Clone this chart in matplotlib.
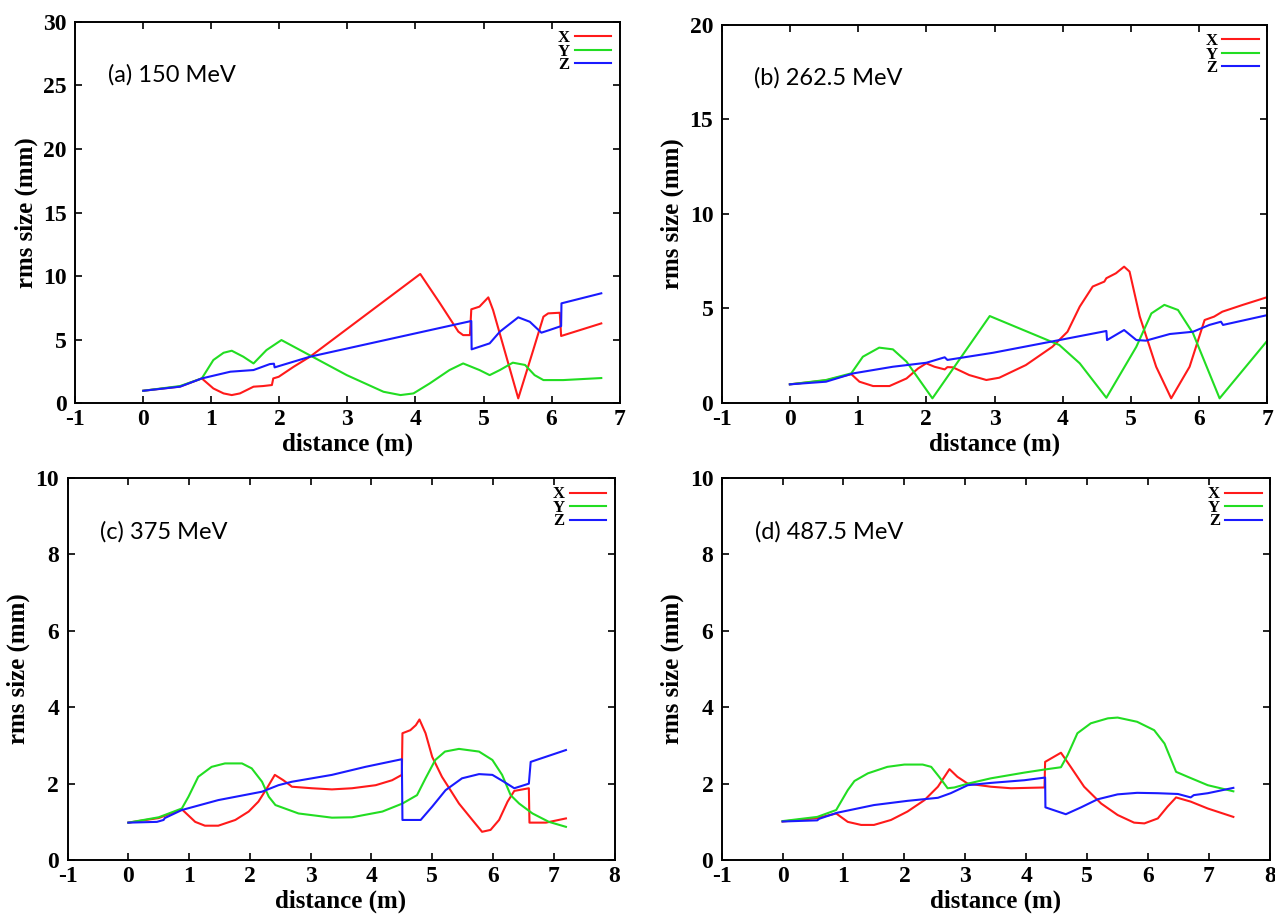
import numpy as np
import matplotlib
matplotlib.use('Agg')
import matplotlib.pyplot as plt

plt.rcParams['axes.unicode_minus'] = False

# %% panel (a) 150 MeV
a_x_d = [0, 0.54, 0.86, 1.03, 1.18, 1.3, 1.42, 1.62, 1.76, 1.89, 1.91, 1.99, 2.21, 2.45, 4.07, 4.36, 4.63, 4.7, 4.8, 4.82, 4.94, 5.07, 5.14, 5.51, 5.73, 5.88, 5.95, 6.12, 6.14, 6.73]
a_x_v = [0.97, 1.3, 1.94, 1.15, 0.76, 0.63, 0.76, 1.29, 1.34, 1.42, 1.94, 2.07, 2.86, 3.65, 10.16, 7.85, 5.62, 5.35, 5.35, 7.38, 7.59, 8.32, 7.32, 0.37, 4.17, 6.8, 7.06, 7.11, 5.28, 6.27]
a_y_d = [0, 0.54, 0.86, 1.03, 1.18, 1.3, 1.47, 1.62, 1.81, 2.03, 2.35, 2.99, 3.53, 3.78, 3.97, 4.21, 4.5, 4.7, 4.94, 5.09, 5.24, 5.43, 5.61, 5.75, 5.88, 6.17, 6.73]
a_y_v = [0.97, 1.34, 1.94, 3.39, 3.96, 4.12, 3.65, 3.12, 4.17, 4.96, 4.04, 2.2, 0.89, 0.63, 0.76, 1.55, 2.6, 3.12, 2.6, 2.2, 2.6, 3.18, 3.0, 2.2, 1.81, 1.81, 1.97]
a_z_d = [0, 0.54, 0.86, 1.28, 1.62, 1.86, 1.92, 1.93, 2.45, 4.82, 4.825, 5.09, 5.24, 5.51, 5.68, 5.85, 5.97, 6.14, 6.145, 6.73]
a_z_v = [0.97, 1.29, 1.94, 2.47, 2.6, 3.07, 3.1, 2.81, 3.65, 6.46, 4.23, 4.7, 5.62, 6.75, 6.4, 5.54, 5.75, 6.06, 7.85, 8.64]

# %% panel (b) 262.5 MeV
b_x_d = [0, 0.53, 0.9, 1.02, 1.22, 1.46, 1.71, 1.88, 2.0, 2.12, 2.27, 2.31, 2.39, 2.63, 2.88, 3.07, 3.46, 3.85, 4.07, 4.25, 4.44, 4.61, 4.64, 4.78, 4.9, 4.98, 5.13, 5.37, 5.59, 5.86, 6.08, 6.22, 6.34, 6.64, 7.0]
b_x_v = [0.99, 1.2, 1.53, 1.13, 0.9, 0.9, 1.3, 1.83, 2.1, 1.92, 1.78, 1.9, 1.89, 1.48, 1.22, 1.34, 2.01, 2.98, 3.77, 5.1, 6.16, 6.42, 6.6, 6.86, 7.21, 6.95, 4.57, 1.92, 0.25, 1.92, 4.39, 4.57, 4.83, 5.19, 5.6]
b_y_d = [0, 0.53, 0.9, 1.07, 1.31, 1.51, 1.71, 2.09, 2.93, 3.95, 4.25, 4.64, 5.08, 5.3, 5.49, 5.69, 5.91, 6.3, 7.0]
b_y_v = [0.99, 1.22, 1.57, 2.45, 2.93, 2.84, 2.19, 0.25, 4.6, 3.07, 2.1, 0.28, 2.98, 4.74, 5.19, 4.92, 3.69, 0.25, 3.3]
b_z_d = [0, 0.53, 0.93, 1.51, 2.0, 2.27, 2.31, 2.98, 3.95, 4.64, 4.65, 4.9, 5.08, 5.22, 5.57, 5.91, 6.15, 6.32, 6.35, 7.0]
b_z_v = [0.99, 1.13, 1.57, 1.92, 2.13, 2.42, 2.28, 2.66, 3.33, 3.81, 3.33, 3.86, 3.33, 3.3, 3.65, 3.77, 4.13, 4.3, 4.13, 4.65]

# %% panel (c) 375 MeV
c_x_d = [0, 0.5, 0.88, 1.1, 1.26, 1.48, 1.76, 1.98, 2.14, 2.28, 2.41, 2.55, 2.66, 2.69, 3.02, 3.35, 3.68, 4.07, 4.34, 4.5, 4.51, 4.64, 4.73, 4.79, 4.89, 5.0, 5.16, 5.44, 5.66, 5.82, 5.96, 6.1, 6.24, 6.35, 6.59, 6.6, 6.87, 7.2]
c_x_v = [0.98, 1.1, 1.33, 1.0, 0.9, 0.9, 1.05, 1.27, 1.53, 1.88, 2.23, 2.09, 1.96, 1.92, 1.88, 1.85, 1.88, 1.96, 2.09, 2.23, 3.32, 3.4, 3.53, 3.68, 3.32, 2.7, 2.18, 1.48, 1.05, 0.74, 0.79, 1.05, 1.53, 1.81, 1.88, 0.98, 0.98, 1.09]
c_y_d = [0, 0.5, 0.88, 0.99, 1.15, 1.37, 1.59, 1.87, 2.03, 2.2, 2.31, 2.42, 2.8, 3.35, 3.68, 4.18, 4.51, 4.75, 4.89, 5.05, 5.21, 5.44, 5.77, 5.99, 6.15, 6.29, 6.43, 6.65, 6.92, 7.2]
c_y_v = [0.98, 1.12, 1.35, 1.66, 2.18, 2.44, 2.53, 2.53, 2.4, 2.05, 1.66, 1.44, 1.22, 1.11, 1.12, 1.27, 1.48, 1.7, 2.14, 2.62, 2.84, 2.91, 2.84, 2.62, 2.23, 1.7, 1.48, 1.22, 1.0, 0.87]
c_z_d = [0, 0.47, 0.58, 0.6, 0.88, 1.48, 2.2, 2.47, 2.69, 3.35, 3.9, 4.5, 4.51, 4.81, 5.0, 5.22, 5.49, 5.77, 5.99, 6.18, 6.35, 6.59, 6.62, 7.2]
c_z_v = [0.98, 1.0, 1.05, 1.1, 1.31, 1.57, 1.79, 1.96, 2.05, 2.23, 2.44, 2.64, 1.05, 1.05, 1.4, 1.83, 2.14, 2.25, 2.23, 2.05, 1.88, 2.0, 2.57, 2.88]

# %% panel (d) 487.5 MeV
d_x_d = [0, 0.57, 0.88, 1.07, 1.29, 1.5, 1.78, 2.05, 2.33, 2.55, 2.74, 2.87, 3.04, 3.42, 3.75, 4.3, 4.31, 4.57, 4.73, 4.95, 5.23, 5.5, 5.77, 5.94, 6.16, 6.32, 6.46, 6.7, 6.98, 7.4]
d_x_v = [1.01, 1.1, 1.22, 1.0, 0.92, 0.92, 1.05, 1.27, 1.57, 1.92, 2.38, 2.18, 2.0, 1.92, 1.88, 1.9, 2.57, 2.81, 2.44, 1.92, 1.48, 1.18, 0.98, 0.96, 1.09, 1.4, 1.64, 1.53, 1.35, 1.13]
d_y_d = [0, 0.57, 0.88, 1.07, 1.18, 1.4, 1.72, 2.0, 2.3, 2.44, 2.57, 2.71, 2.82, 3.04, 3.42, 3.97, 4.3, 4.57, 4.68, 4.84, 5.06, 5.34, 5.5, 5.82, 6.1, 6.27, 6.46, 6.65, 6.98, 7.4]
d_y_v = [1.02, 1.13, 1.31, 1.83, 2.07, 2.27, 2.44, 2.5, 2.5, 2.44, 2.18, 1.88, 1.9, 2.0, 2.14, 2.29, 2.37, 2.43, 2.75, 3.32, 3.58, 3.71, 3.73, 3.62, 3.4, 3.05, 2.31, 2.18, 1.96, 1.8]
d_z_d = [0, 0.57, 0.6, 0.9, 1.5, 2.05, 2.55, 2.76, 3.04, 3.42, 3.97, 4.31, 4.315, 4.65, 4.9, 5.17, 5.5, 5.82, 6.16, 6.49, 6.7, 6.75, 6.98, 7.4]
d_z_v = [1.01, 1.04, 1.08, 1.24, 1.44, 1.55, 1.63, 1.75, 1.96, 2.02, 2.09, 2.16, 1.38, 1.2, 1.38, 1.59, 1.72, 1.76, 1.75, 1.73, 1.64, 1.7, 1.75, 1.89]

panels = [
    ('(a) 150 MeV', (a_x_d, a_x_v), (a_y_d, a_y_v), (a_z_d, a_z_v), 7, 30, 5),
    ('(b) 262.5 MeV', (b_x_d, b_x_v), (b_y_d, b_y_v), (b_z_d, b_z_v), 7, 20, 5),
    ('(c) 375 MeV', (c_x_d, c_x_v), (c_y_d, c_y_v), (c_z_d, c_z_v), 8, 10, 2),
    ('(d) 487.5 MeV', (d_x_d, d_x_v), (d_y_d, d_y_v), (d_z_d, d_z_v), 8, 10, 2),
]
boxes = [
    [0.059, 0.559, 0.427, 0.417],
    [0.566, 0.559, 0.428, 0.414],
    [0.053, 0.059, 0.429, 0.418],
    [0.566, 0.059, 0.430, 0.418],
]
colors = ['#ff1a1a', '#22dd22', '#1a1aff']
names = ['X', 'Y', 'Z']
serif = 'Liberation Serif'

fig = plt.figure(figsize=(12.75, 9.14), dpi=100)
for (title, sx, sy, sz, xmax, ymax, ystep), box in zip(panels, boxes):
    ax = fig.add_axes(box)
    for (d, v), c, n in zip([sx, sy, sz], colors, names):
        ax.plot(d, v, color=c, lw=1.5, label=n)
    ax.set_xlim(-1, xmax)
    ax.set_ylim(0, ymax)
    ax.set_xticks(np.arange(-1, xmax + 1, 1))
    ax.set_yticks(np.arange(0, ymax + ystep, ystep))
    ax.tick_params(direction='in', top=True, right=True, length=5, width=1.2)
    ax.tick_params(axis='x', pad=4)
    ax.tick_params(axis='y', pad=6)
    for lab in ax.get_xticklabels() + ax.get_yticklabels():
        lab.set_fontfamily(serif)
        lab.set_fontweight('bold')
        lab.set_fontsize(17)
    for s in ax.spines.values():
        s.set_linewidth(1.4)
    ax.set_xlabel('distance (m)', family=serif, weight='bold', fontsize=18, labelpad=2)
    ax.set_ylabel('rms size (mm)', family=serif, weight='bold', fontsize=18, labelpad=4)
    ax.text(0.06, 0.86, title, transform=ax.transAxes, family='Lato', fontsize=17,
            va='center', ha='left')
    ax.legend(loc='upper right', frameon=False, markerfirst=False, handlelength=2.2,
              handletextpad=0.3, labelspacing=-0.15, borderaxespad=0.1,
              prop={'family': serif, 'weight': 'bold', 'size': 12})

fig.savefig('out.png', dpi=100)
